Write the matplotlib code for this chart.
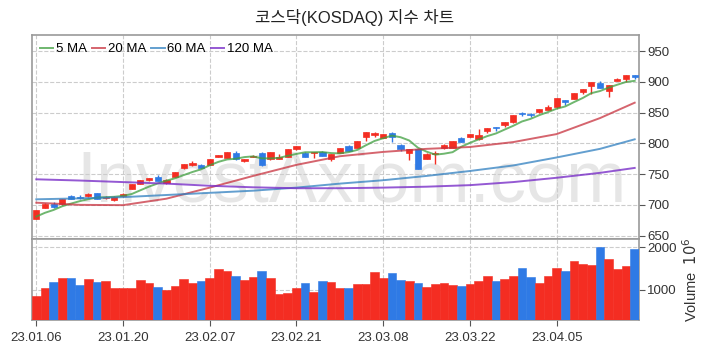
import numpy as np
import pandas as pd
import matplotlib
matplotlib.use("Agg")
import matplotlib.pyplot as plt
from matplotlib.ticker import FixedLocator

# trading days shown (KRX holidays removed)
dates = pd.bdate_range("2023-01-06", "2023-04-18", freq="C",
                       holidays=["2023-01-23", "2023-01-24", "2023-03-01"])

opens = [677.7, 695.6, 701.0, 701.4, 715.0, 713.0, 714.0, 719.0, 711.0, 707.5,
         714.0, 725.8, 734.6, 741.0, 745.4, 735.6, 745.4, 760.0, 765.0, 764.4,
         764.4, 778.0, 776.3, 784.5, 771.4, 778.0, 784.5, 773.7, 774.7, 778.0,
         790.0, 785.0, 784.0, 786.0, 774.0, 785.0, 795.8, 792.6, 810.5, 813.3,
         809.0, 817.0, 798.0, 785.0, 790.5, 775.3, 783.0, 791.6, 792.6, 808.4,
         810.5, 806.7, 820.3, 826.0, 829.5, 834.0, 849.0, 848.0, 851.0, 854.4,
         858.3, 870.2, 872.0, 882.7, 893.5, 897.4, 885.4, 901.6, 904.4, 910.4]
highs = [692.0, 702.5, 705.3, 710.0, 716.0, 716.0, 719.0, 720.0, 714.0, 714.0,
         719.0, 734.0, 741.0, 743.5, 748.0, 741.5, 753.5, 766.5, 771.0, 767.0,
         775.0, 781.0, 786.0, 787.0, 774.5, 780.5, 786.0, 786.0, 782.0, 791.0,
         796.0, 786.0, 786.0, 787.0, 782.5, 793.0, 797.0, 804.0, 818.0, 819.0,
         815.5, 818.0, 799.0, 791.5, 791.0, 783.5, 787.0, 798.5, 804.0, 809.5,
         815.5, 824.0, 825.0, 827.0, 834.5, 846.0, 851.0, 848.5, 855.5, 862.0,
         873.5, 871.0, 881.5, 888.5, 899.5, 901.0, 895.0, 906.0, 910.8, 911.0]
lows = [677.0, 695.0, 695.6, 700.5, 709.5, 710.0, 713.5, 709.0, 710.0, 707.0,
        713.0, 725.5, 734.0, 738.0, 738.5, 734.0, 745.0, 758.0, 763.0, 760.0,
        764.0, 777.5, 776.0, 773.0, 769.0, 777.5, 763.0, 773.0, 774.0, 777.5,
        789.0, 777.0, 776.0, 779.0, 772.0, 784.5, 788.0, 792.0, 803.0, 811.0,
        808.5, 802.0, 787.0, 772.6, 758.0, 774.0, 767.0, 791.0, 792.0, 802.0,
        810.0, 806.0, 817.0, 820.0, 826.0, 833.5, 845.0, 842.0, 850.0, 854.0,
        858.0, 862.0, 871.5, 880.0, 879.5, 890.0, 876.0, 901.0, 900.0, 904.0]
closes = [691.2, 702.1, 697.2, 709.6, 710.0, 711.0, 718.4, 709.6, 713.0, 713.5,
          718.4, 733.5, 740.0, 743.0, 738.9, 741.0, 753.0, 766.0, 768.0, 760.6,
          774.0, 780.7, 785.6, 773.7, 774.0, 780.0, 764.4, 785.6, 778.0, 790.5,
          795.4, 778.0, 785.6, 779.6, 782.0, 792.6, 788.3, 803.5, 817.6, 817.0,
          815.0, 809.5, 790.5, 791.0, 758.4, 783.0, 785.0, 798.0, 803.5, 802.4,
          815.0, 813.0, 824.6, 825.0, 834.0, 845.8, 848.0, 846.0, 855.0, 859.3,
          873.0, 866.5, 881.0, 888.0, 899.0, 890.2, 894.6, 904.4, 910.4, 908.0]
# closes of the 4 sessions before the window (for the 5 MA)
prev_closes = [671.5, 673.9, 679.3, 688.9]

# volume in millions of shares
volume = [852, 1040, 1182, 1276, 1276, 1111, 1252, 1182, 1205, 1040,
          1040, 1040, 1229, 1158, 1064, 993, 1087, 1252, 1158, 1205,
          1276, 1488, 1441, 1323, 1229, 1300, 1441, 1276, 900, 923,
          1040, 1158, 946, 1205, 1182, 1040, 1040, 1135, 1135, 1417,
          1276, 1394, 1229, 1205, 1158, 1064, 1135, 1158, 1111, 1087,
          1135, 1205, 1323, 1205, 1252, 1323, 1512, 1300, 1158, 1323,
          1512, 1441, 1677, 1606, 1582, 2007, 1724, 1488, 1559, 1960]

# longer moving averages at every 5th session
ma_idx = [0, 5, 10, 15, 20, 25, 30, 35, 40, 45, 50, 55, 60, 65, 69]
ma20 = [703.5, 700.0, 699.5, 710.0, 728.0, 747.0, 765.0, 779.0, 786.0, 791.0,
        794.0, 802.0, 815.0, 841.0, 866.0]
ma60 = [709.0, 710.5, 712.5, 716.0, 719.5, 723.0, 728.0, 734.5, 740.0, 747.0,
        755.0, 764.0, 777.0, 791.0, 806.5]
ma120 = [741.5, 739.5, 737.0, 734.5, 731.0, 728.5, 727.0, 727.0, 728.0, 729.5,
         732.0, 737.0, 744.0, 752.0, 760.0]

UP = "#f42d22"
DOWN = "#2f7ae5"

plt.rcParams['font.family'] = ['Liberation Sans', 'Noto Sans CJK KR', 'DejaVu Sans']
plt.rcParams['axes.edgecolor'] = '#9a9a9a'
plt.rcParams['axes.linewidth'] = 1.2
plt.rcParams['xtick.color'] = '#555555'
plt.rcParams['ytick.color'] = '#555555'
plt.rcParams['xtick.labelcolor'] = '#333333'
plt.rcParams['ytick.labelcolor'] = '#333333'

x = np.arange(len(closes))
o = np.array(opens); c = np.array(closes)
colors = [UP if cc >= oo else DOWN for oo, cc in zip(o, c)]

ma5 = pd.Series(prev_closes + closes).rolling(5).mean().to_numpy()[len(prev_closes):]

fig = plt.figure(figsize=(7.09, 3.53), dpi=100)
ax = fig.add_axes([0.0451, 0.3221, 0.8562, 0.5787])
axv = fig.add_axes([0.0451, 0.0935, 0.8562, 0.2286], sharex=ax)

ax.text(0.527, 0.183, "InvestAxiom.com", transform=ax.transAxes,
        ha='center', va='baseline', fontsize=52, color='#e6e6e6', zorder=0)

# candles
ax.vlines(x, lows, highs, colors=colors, linewidth=1.0, zorder=3)
ax.bar(x, np.maximum(np.abs(c - o), 0.8), bottom=np.minimum(o, c), width=0.72,
       color=colors, edgecolor=colors, linewidth=0.5, zorder=4)

ax.plot(x, ma5, color='#3f9f3f', alpha=0.75, lw=1.4, label='5 MA', zorder=5)
ax.plot(ma_idx, ma20, color='#c8313e', alpha=0.75, lw=1.4, label='20 MA', zorder=5)
ax.plot(ma_idx, ma60, color='#2f7fc0', alpha=0.75, lw=1.4, label='60 MA', zorder=5)
ax.plot(ma_idx, ma120, color='#7a2fc8', alpha=0.8, lw=1.4, label='120 MA', zorder=5)

ax.set_xlim(-0.5, len(x) - 0.5)
ax.set_ylim(644, 976)
ax.yaxis.tick_right()
ax.set_yticks([650, 700, 750, 800, 850, 900, 950])
ax.tick_params(axis='y', labelsize=9.5, length=4, pad=2)
ax.tick_params(axis='x', length=0, labelbottom=False)
ax.grid(True, ls='--', color='#cccccc', lw=0.8)
ax.set_axisbelow(True)
leg = ax.legend(loc='upper left', ncol=4, frameon=False, fontsize=9.5,
                handlelength=1.0, handletextpad=0.2, columnspacing=0.4,
                borderaxespad=0.3, borderpad=0.3)

# volume
axv.bar(x, volume, width=1.0, color=colors, edgecolor=colors, linewidth=0.4,
        zorder=3)
axv.set_ylim(285, 2190)
axv.yaxis.tick_right()
axv.yaxis.set_label_position('right')
axv.set_yticks([1000, 2000])
axv.set_ylabel(r"Volume  $10^6$", fontsize=10.5, color='#333333', labelpad=3)
axv.tick_params(axis='y', labelsize=9.5, length=4, pad=2)
tick_pos = list(range(0, len(x), 10))
axv.xaxis.set_major_locator(FixedLocator(tick_pos))
axv.set_xticklabels([dates[i].strftime("%y.%m.%d") for i in tick_pos])
axv.tick_params(axis='x', labelsize=9.5, length=4, pad=5)
axv.grid(True, ls='--', color='#cccccc', lw=0.8)
axv.set_axisbelow(True)

fig.text(0.5, 1 - 18 / 353, "코스닥(KOSDAQ) 지수 차트", ha='center', va='center',
         fontsize=12, color='#222222')

fig.savefig("out.png", dpi=100)
